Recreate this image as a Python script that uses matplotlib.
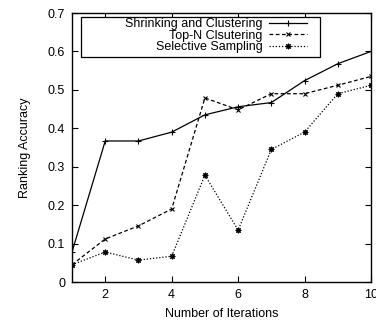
import matplotlib
matplotlib.use("Agg")
import matplotlib.pyplot as plt
from matplotlib.patches import Rectangle

iterations = [1, 2, 3, 4, 5, 6, 7, 8, 9, 10]
shrinking = [0.078, 0.367, 0.367, 0.390, 0.435, 0.456, 0.467, 0.524, 0.568, 0.600]
topn = [0.045, 0.112, 0.146, 0.190, 0.479, 0.448, 0.490, 0.490, 0.512, 0.535]
selective = [0.045, 0.078, 0.057, 0.067, 0.278, 0.135, 0.345, 0.390, 0.490, 0.512]
labels = ["Shrinking and Clustering", "Top-N Clsutering", "Selective Sampling"]
xticks = [2, 4, 6, 8, 10]
yticks = [0, 0.1, 0.2, 0.3, 0.4, 0.5, 0.6, 0.7]

plt.rcParams['font.family'] = ['Liberation Sans', 'DejaVu Sans']
fig = plt.figure(figsize=(3.76, 3.22), dpi=100)
ax = fig.add_axes([0.1915, 0.1242, 0.7952, 0.8354])

ax.plot(iterations, shrinking, color='black', lw=0.9, ls='-', marker='+', ms=4, mew=0.8, label=labels[0])
ax.plot(iterations, topn, color='black', lw=0.9, ls=(0, (3, 2)), marker='x', ms=3.5, mew=0.8, label=labels[1])
ax.plot(iterations, selective, color='black', lw=0.9, ls=(0, (1, 1.5)), marker=(8, 2, 0), ms=4, mew=0.8, label=labels[2])

ax.set_xlim(1, 10)
ax.set_ylim(0, 0.7)
ax.set_xticks(xticks)
ax.set_yticks(yticks)
ax.set_yticklabels(["0" if v == 0 else f"{v:.1f}" for v in yticks])
ax.tick_params(direction='in', length=4, width=0.8, top=True, right=True, labelsize=9, pad=5)
for s in ax.spines.values():
    s.set_linewidth(1.0)

ax.set_xlabel("Number of Iterations", fontsize=9, labelpad=5)
ax.set_ylabel("Ranking Accuracy", fontsize=9, labelpad=12)

# gnuplot-style key box
ax.add_patch(Rectangle((0.030, 0.836), 0.799, 0.149, transform=ax.transAxes,
                       fill=True, facecolor='white', edgecolor='black', lw=0.9, zorder=4))
leg = ax.legend(loc='upper right', bbox_to_anchor=(0.79, 0.985), markerfirst=False, fontsize=9,
                frameon=False, handlelength=3.0,
                borderpad=0.1, labelspacing=-0.05, handletextpad=0.55, borderaxespad=0)
leg.set_zorder(5)

fig.savefig("out.png", dpi=100)
